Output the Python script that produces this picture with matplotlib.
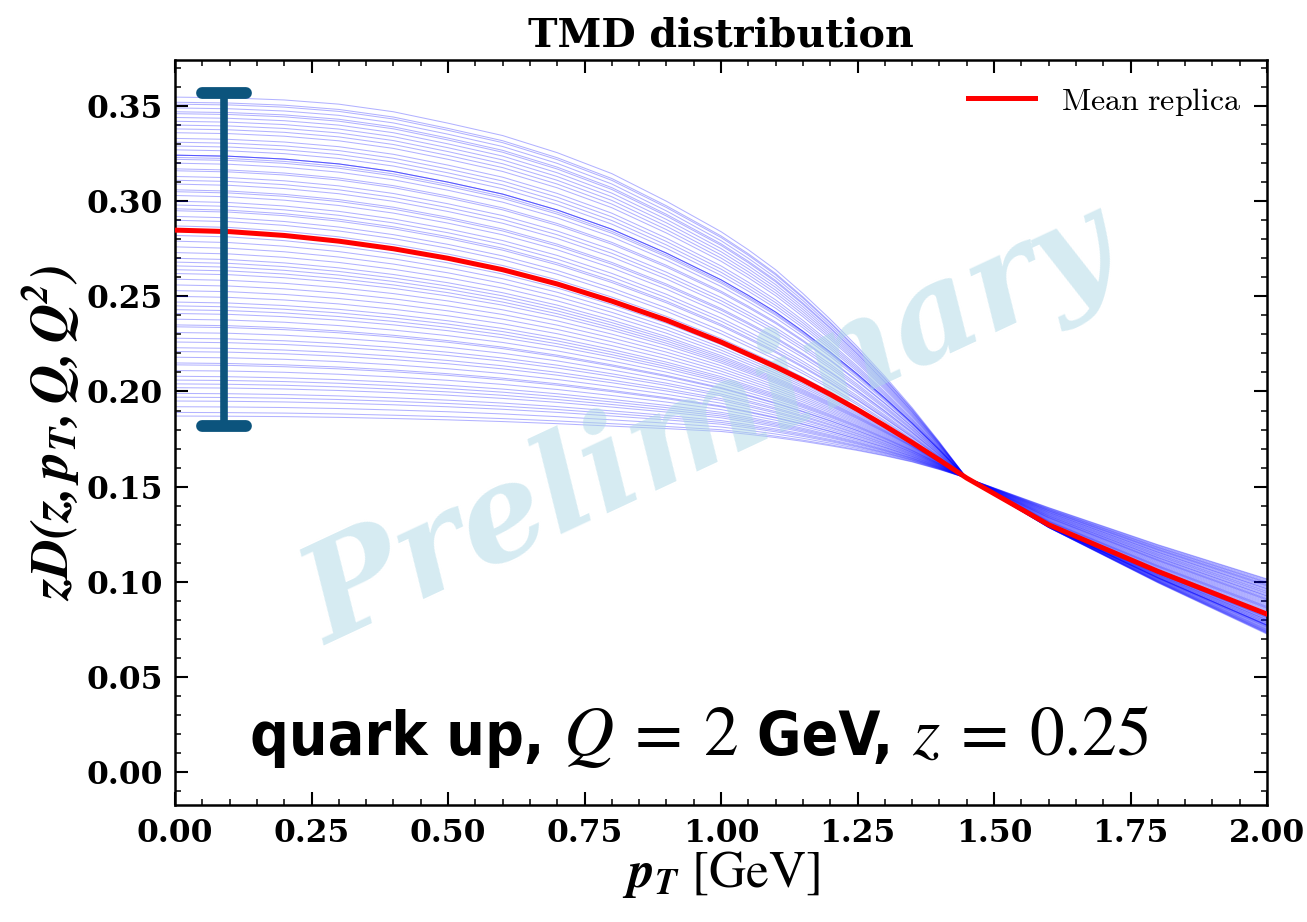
import numpy as np
import matplotlib
matplotlib.use("Agg")
import matplotlib.pyplot as plt
from matplotlib.ticker import MultipleLocator
from matplotlib.markers import MarkerStyle
from matplotlib.offsetbox import TextArea, HPacker, AnchoredOffsetbox

# ---------------- data ----------------
pt_grid = [0.0, 0.1, 0.2, 0.3, 0.4, 0.5, 0.6, 0.7, 0.8, 0.9, 1.0,
           1.05, 1.1, 1.15, 1.2, 1.25, 1.3, 1.35, 1.4, 1.45, 1.6, 1.8, 2.0]
# replica with the highest value at pT = 0
top_replica = [0.3547, 0.3543, 0.3532, 0.3510, 0.3470, 0.3410, 0.3345, 0.3255,
               0.3145, 0.3000, 0.2840, 0.2745, 0.2640, 0.2515, 0.2380, 0.2235,
               0.2080, 0.1915, 0.1735, 0.1545, 0.1285, 0.0995, 0.0725]
# mean replica (red)
mean_replica = [0.2848, 0.2840, 0.2820, 0.2790, 0.2750, 0.2700, 0.2640, 0.2565,
                0.2475, 0.2375, 0.2260, 0.2195, 0.2130, 0.2060, 0.1985, 0.1905,
                0.1820, 0.1732, 0.1640, 0.1545, 0.1300, 0.1055, 0.0830]
# replica with the lowest value at pT = 0
bottom_replica = [0.1871, 0.1870, 0.1868, 0.1864, 0.1858, 0.1851, 0.1842, 0.1831,
                  0.1818, 0.1805, 0.1790, 0.1775, 0.1758, 0.1738, 0.1715, 0.1690,
                  0.1662, 0.1630, 0.1590, 0.1545, 0.1390, 0.1195, 0.1015]
# values of the individual replicas at pT = 0
replica_starts = [0.3547, 0.352, 0.351, 0.349, 0.347, 0.346, 0.344, 0.342, 0.340,
                  0.338, 0.336, 0.333, 0.331, 0.329, 0.327, 0.3242, 0.3242, 0.3242,
                  0.323, 0.322, 0.320, 0.317, 0.316, 0.313, 0.311, 0.309, 0.306,
                  0.305, 0.303, 0.300, 0.298, 0.296, 0.295, 0.292, 0.290, 0.287,
                  0.285, 0.282, 0.279, 0.276, 0.273, 0.270, 0.268, 0.266, 0.264,
                  0.262, 0.259, 0.256, 0.253, 0.250, 0.247, 0.245, 0.243, 0.241,
                  0.238, 0.235, 0.234, 0.231, 0.228, 0.226, 0.223, 0.221, 0.218,
                  0.215, 0.214, 0.211, 0.208, 0.206, 0.204, 0.202, 0.199, 0.197,
                  0.195, 0.192, 0.189, 0.1871]
# spread band at small pT
err_pt = 0.09
err_low = 0.182
err_high = 0.357

x_ticks = [0.0, 0.25, 0.5, 0.75, 1.0, 1.25, 1.5, 1.75, 2.0]
y_ticks = [0.0, 0.05, 0.10, 0.15, 0.20, 0.25, 0.30, 0.35]

# ---------------- style ----------------
plt.rcParams["font.family"] = "DejaVu Serif"
plt.rcParams["mathtext.fontset"] = "cm"
plt.rcParams["axes.unicode_minus"] = False

fig = plt.figure(figsize=(13.07, 9.22), dpi=100)
ax = fig.add_axes([175 / 1307, 1 - 805 / 922, (1267 - 175) / 1307, (805 - 60) / 922])

pt = np.array(pt_grid)
top = np.array(top_replica)
mean = np.array(mean_replica)
bot = np.array(bottom_replica)

for s in replica_starts:
    if s >= mean[0]:
        u = (top[0] - s) / (top[0] - mean[0])
        y = top + u * (mean - top)
    else:
        v = (mean[0] - s) / (mean[0] - bot[0])
        y = mean + v * (bot - mean)
    ax.plot(pt, y, color="blue", lw=0.75, alpha=0.3, zorder=2)

ax.plot(pt, mean, color="red", lw=3.6, label=r"$\mathrm{Mean\ replica}$", zorder=4)

mid = 0.5 * (err_low + err_high)
eb = ax.errorbar([err_pt], [mid], yerr=[[mid - err_low], [err_high - mid]], fmt="none",
                 ecolor="#0c547d", elinewidth=5.5, capsize=16, capthick=8.5, zorder=5)
for c in eb[1]:
    c.set_marker(MarkerStyle("_", capstyle="round"))
for lc in eb[2]:
    lc.set_capstyle("round")

ax.text(0.98, 0.181, "Preliminary", rotation=25, fontsize=96, family="DejaVu Serif",
        weight="bold", style="italic", color="#add8e6", alpha=0.5,
        ha="center", va="center", zorder=3, rotation_mode="anchor")

sans = dict(fontsize=43.5, fontweight="bold", fontstretch="condensed",
            family="DejaVu Sans", color="black")
mth = dict(fontsize=50, fontweight="normal", math_fontfamily="stix", color="black")
parts = [TextArea("quark up, ", textprops=sans),
         TextArea(r"$Q\:=\:2$", textprops=mth),
         TextArea(" GeV, ", textprops=sans),
         TextArea(r"$z\:=\:0.25$", textprops=mth)]
packed = HPacker(children=parts, align="baseline", pad=0, sep=0)
anch = AnchoredOffsetbox(loc="lower left", child=packed, pad=0, borderpad=0,
                         frameon=False, bbox_to_anchor=(250 / 1307, 1 - 770 / 922),
                         bbox_transform=fig.transFigure)
anch.set_zorder(6)
ax.add_artist(anch)

ax.set_xlim(0, 2.0)
ax.set_ylim(-0.0173, 0.3742)
ax.set_xticks(x_ticks, labels=[f"{t:.2f}" for t in x_ticks], fontweight="bold")
ax.set_yticks(y_ticks, labels=[f"{t:.2f}" for t in y_ticks], fontweight="bold")
ax.xaxis.set_minor_locator(MultipleLocator(0.05))
ax.yaxis.set_minor_locator(MultipleLocator(0.01))
ax.tick_params(which="both", direction="in", top=True, right=True)
ax.tick_params(which="major", length=9.5, width=1.5, labelsize=22.5, pad=9)
ax.tick_params(which="minor", length=4, width=1.1)
for sp in ax.spines.values():
    sp.set_linewidth(1.8)

ax.set_title("TMD distribution", fontsize=28.5, pad=10, fontweight="bold")
ax.set_xlabel(r"$\mathbfit{p_T}\ \mathrm{[GeV]}$", fontsize=37,
              math_fontfamily="stix", labelpad=0)
ax.set_ylabel(r"$\mathbfit{zD(z, p_T, Q, Q^2)}$", fontsize=39, math_fontfamily="stix",
              labelpad=2)

ax.legend(loc="upper right", frameon=False, handlelength=2.1, borderaxespad=0.4,
          prop={"family": "cmr10", "size": 23})

fig.savefig("out.png", dpi=100)
